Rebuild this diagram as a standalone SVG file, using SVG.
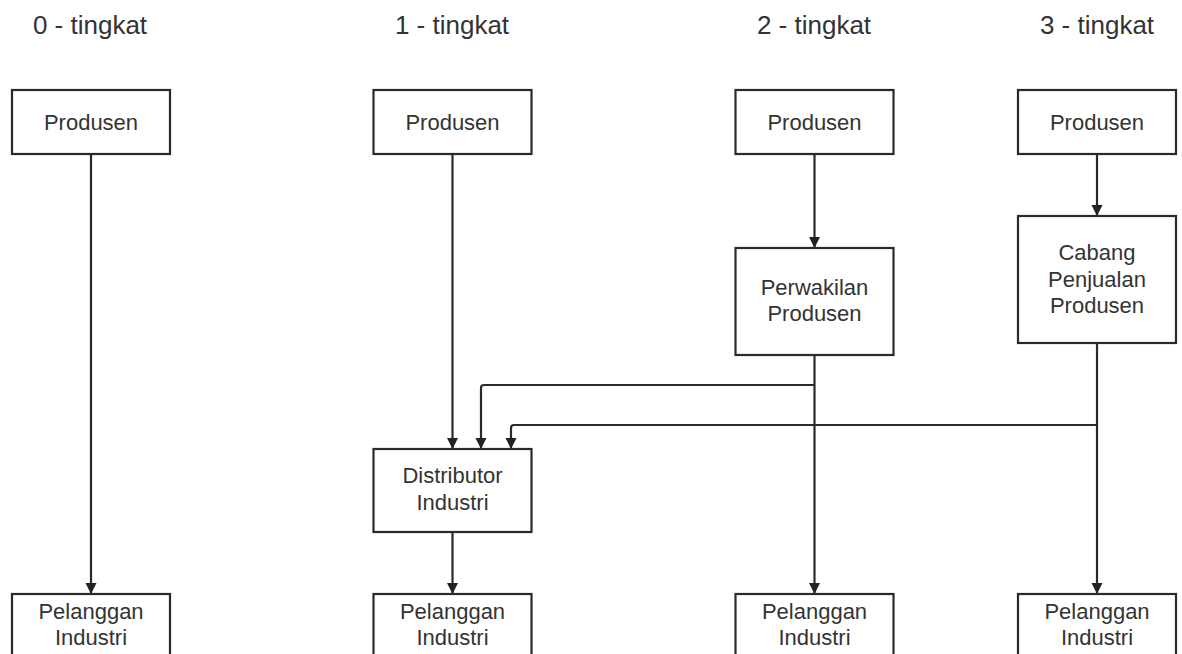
<svg xmlns="http://www.w3.org/2000/svg" width="1182" height="654" viewBox="0 0 1182 654">
<defs>
<marker id="arr" markerUnits="userSpaceOnUse" markerWidth="13" markerHeight="13" viewBox="0 0 13 13" refX="12" refY="6.5" orient="auto">
<path d="M1,1 L12,6.5 L1,12 Z" fill="#222"/>
</marker>
<style>
.box{fill:#fff;stroke:#2a2a2a;stroke-width:2.2}
.t{font-family:"Liberation Sans",Arial,sans-serif;font-size:22px;fill:#333;text-anchor:middle}
.h{font-family:"Liberation Sans",Arial,sans-serif;font-size:26px;fill:#333;text-anchor:middle}
.c{fill:none;stroke:#2a2a2a;stroke-width:2.2;marker-end:url(#arr)}
</style>
</defs>
<rect width="1182" height="654" fill="#fff"/>
<g id="titles">
<text class="h" x="90" y="34">0 - tingkat</text>
<text class="h" x="452" y="34">1 - tingkat</text>
<text class="h" x="814" y="34">2 - tingkat</text>
<text class="h" x="1097" y="34">3 - tingkat</text>
</g>
<g id="connectors">
<path class="c" d="M91,154 V594"/>
<path class="c" d="M452.5,154 V449"/>
<path class="c" d="M452.5,532 V594"/>
<path class="c" d="M814.5,154 V248"/>
<path class="c" d="M814.5,355 V594"/>
<path class="c" d="M814.5,385 H484 Q481,385 481,388 V449"/>
<path class="c" d="M1097,154 V216"/>
<path class="c" d="M1097,343 V594"/>
<path class="c" d="M1097,425 H514 Q511,425 511,428 V449"/>
</g>
<g id="produsen0"><rect class="box" x="12" y="90" width="158" height="64"/><text class="t" x="91" y="130">Produsen</text></g>
<g id="produsen1"><rect class="box" x="373.5" y="90" width="158" height="64"/><text class="t" x="452.5" y="130">Produsen</text></g>
<g id="produsen2"><rect class="box" x="735.5" y="90" width="158" height="64"/><text class="t" x="814.5" y="130">Produsen</text></g>
<g id="produsen3"><rect class="box" x="1018" y="90" width="158" height="64"/><text class="t" x="1097" y="130">Produsen</text></g>
<g id="perwakilan"><rect class="box" x="735.5" y="248" width="158" height="107"/><text class="t" x="814.5" y="295">Perwakilan</text><text class="t" x="814.5" y="321">Produsen</text></g>
<g id="cabang"><rect class="box" x="1018" y="216" width="158" height="127"/><text class="t" x="1097" y="260">Cabang</text><text class="t" x="1097" y="287">Penjualan</text><text class="t" x="1097" y="313">Produsen</text></g>
<g id="distributor"><rect class="box" x="373.5" y="449" width="158" height="83"/><text class="t" x="452.5" y="483">Distributor</text><text class="t" x="452.5" y="510">Industri</text></g>
<g id="pelanggan0"><rect class="box" x="12" y="594" width="158" height="70"/><text class="t" x="91" y="619">Pelanggan</text><text class="t" x="91" y="645">Industri</text></g>
<g id="pelanggan1"><rect class="box" x="373.5" y="594" width="158" height="70"/><text class="t" x="452.5" y="619">Pelanggan</text><text class="t" x="452.5" y="645">Industri</text></g>
<g id="pelanggan2"><rect class="box" x="735.5" y="594" width="158" height="70"/><text class="t" x="814.5" y="619">Pelanggan</text><text class="t" x="814.5" y="645">Industri</text></g>
<g id="pelanggan3"><rect class="box" x="1018" y="594" width="158" height="70"/><text class="t" x="1097" y="619">Pelanggan</text><text class="t" x="1097" y="645">Industri</text></g>
</svg>
